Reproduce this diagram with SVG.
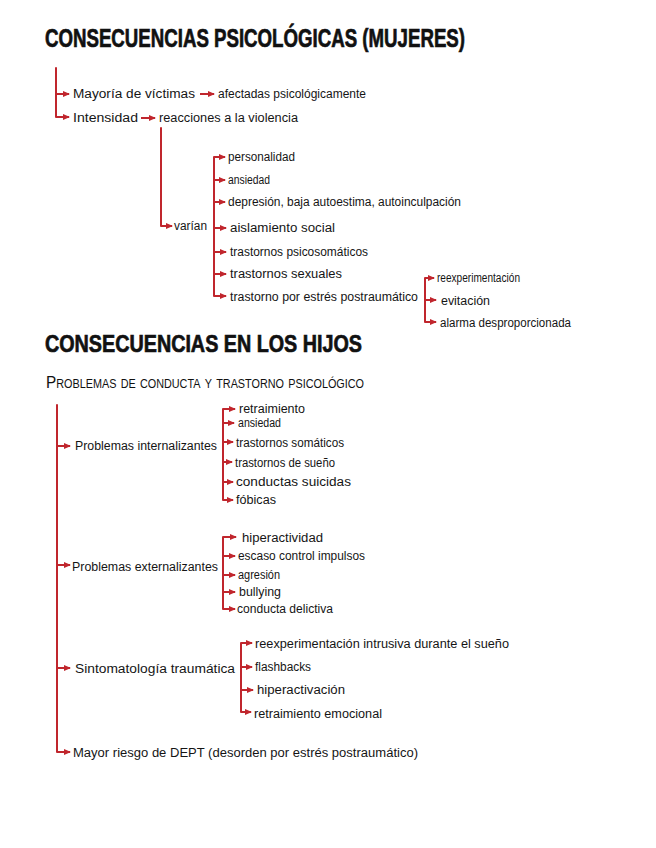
<svg xmlns="http://www.w3.org/2000/svg" width="656" height="848" viewBox="0 0 656 848">
<style>
.bg{fill:#ffffff}
.h1{font-family:"Liberation Sans",Arial,sans-serif;font-weight:700;font-size:26px;fill:#111;stroke:#111;stroke-width:0.7}
.h2{font-family:"Liberation Sans",Arial,sans-serif;font-size:17px;fill:#111;font-variant:small-caps}
.t{font-family:"Liberation Sans",Arial,sans-serif;font-size:12.5px;fill:#151515}
.ln{fill:none;stroke:#c0262d;stroke-width:2;stroke-linecap:round;stroke-linejoin:round}
.ar{fill:none;stroke:#c0262d;stroke-width:2;marker-end:url(#ah)}
</style>
<defs>
<marker id="ah" markerUnits="userSpaceOnUse" markerWidth="7" markerHeight="7" refX="6" refY="3.5" orient="auto">
<path d="M0,0.5 L7,3.5 L0,6.5 z" fill="#c0262d"/>
</marker>
</defs>
<rect class="bg" width="656" height="848"/>

<g id="title1"><text class="h1" x="45" y="47" textLength="420" lengthAdjust="spacingAndGlyphs">CONSECUENCIAS PSICOLÓGICAS (MUJERES)</text></g>
<g id="title2"><text class="h1" x="45" y="352" textLength="317" lengthAdjust="spacingAndGlyphs" style="font-size:24px">CONSECUENCIAS EN LOS HIJOS</text></g>
<g id="subtitle"><text class="h2" x="46" y="388" textLength="318" lengthAdjust="spacingAndGlyphs">Problemas de conducta y trastorno psicológico</text></g>

<g id="connectors">
<!-- section 1 -->
<path class="ln" d="M56,68 V117 H62"/>
<path class="ar" d="M56,94 H69"/>
<path class="ar" d="M60,117 H69"/>
<path class="ar" d="M200,94 H214"/>
<path class="ar" d="M141,118 H155"/>
<path class="ln" d="M161,128 V226 H165"/>
<path class="ar" d="M163,226 H172"/>
<path class="ln" d="M222,157 H214 V296 H218"/>
<path class="ar" d="M216,157 H225"/>
<path class="ar" d="M214,180 H225"/>
<path class="ar" d="M214,202 H225"/>
<path class="ar" d="M214,228 H226"/>
<path class="ar" d="M214,252 H226"/>
<path class="ar" d="M214,274 H226"/>
<path class="ar" d="M216,296 H226"/>
<path class="ln" d="M432,278 H425 V322 H428"/>
<path class="ar" d="M427,278 H434"/>
<path class="ar" d="M425,300 H436"/>
<path class="ar" d="M427,322 H436"/>
<!-- section 2 -->
<path class="ln" d="M57,405 V752 H62"/>
<path class="ar" d="M57,446 H70"/>
<path class="ar" d="M57,565 H70"/>
<path class="ar" d="M57,668 H70"/>
<path class="ar" d="M60,752 H70"/>
<path class="ln" d="M230,409 H223 V500 H227"/>
<path class="ar" d="M225,409 H235"/>
<path class="ar" d="M223,423 H234"/>
<path class="ar" d="M223,442 H233"/>
<path class="ar" d="M223,462 H232"/>
<path class="ar" d="M223,482 H233"/>
<path class="ar" d="M225,500 H233"/>
<path class="ln" d="M230,537 H223 V609 H227"/>
<path class="ar" d="M225,537 H236"/>
<path class="ar" d="M223,556 H235"/>
<path class="ar" d="M223,575 H235"/>
<path class="ar" d="M223,592 H235"/>
<path class="ar" d="M225,609 H235"/>
<path class="ln" d="M248,643 H241 V712 H245"/>
<path class="ar" d="M243,643 H252"/>
<path class="ar" d="M241,667 H252"/>
<path class="ar" d="M241,690 H253"/>
<path class="ar" d="M243,712 H251"/>
</g>

<g id="n-mayoria"><text class="t" x="73" y="98" textLength="122" lengthAdjust="spacingAndGlyphs">Mayoría de víctimas</text></g>
<g id="n-afectadas"><text class="t" x="218" y="98" textLength="148" lengthAdjust="spacingAndGlyphs">afectadas psicológicamente</text></g>
<g id="n-intensidad"><text class="t" x="73" y="122" textLength="65" lengthAdjust="spacingAndGlyphs">Intensidad</text></g>
<g id="n-reacciones"><text class="t" x="159" y="122" textLength="139" lengthAdjust="spacingAndGlyphs">reacciones a la violencia</text></g>
<g id="n-varian"><text class="t" x="174" y="230" textLength="33" lengthAdjust="spacingAndGlyphs">varían</text></g>
<g id="n-personalidad"><text class="t" x="228" y="161" textLength="67" lengthAdjust="spacingAndGlyphs">personalidad</text></g>
<g id="n-ansiedad1"><text class="t" x="228" y="184" textLength="42" lengthAdjust="spacingAndGlyphs">ansiedad</text></g>
<g id="n-depresion"><text class="t" x="228" y="206" textLength="233" lengthAdjust="spacingAndGlyphs">depresión, baja autoestima, autoinculpación</text></g>
<g id="n-aislamiento"><text class="t" x="230" y="232" textLength="105" lengthAdjust="spacingAndGlyphs">aislamiento social</text></g>
<g id="n-psicosomaticos"><text class="t" x="230" y="256" textLength="138" lengthAdjust="spacingAndGlyphs">trastornos psicosomáticos</text></g>
<g id="n-sexuales"><text class="t" x="230" y="278" textLength="112" lengthAdjust="spacingAndGlyphs">trastornos sexuales</text></g>
<g id="n-tept"><text class="t" x="230" y="301" textLength="188" lengthAdjust="spacingAndGlyphs">trastorno por estrés postraumático</text></g>
<g id="n-reexp1"><text class="t" x="437" y="282" textLength="83" lengthAdjust="spacingAndGlyphs">reexperimentación</text></g>
<g id="n-evitacion"><text class="t" x="441" y="305" textLength="49" lengthAdjust="spacingAndGlyphs">evitación</text></g>
<g id="n-alarma"><text class="t" x="440" y="327" textLength="131" lengthAdjust="spacingAndGlyphs">alarma desproporcionada</text></g>

<g id="n-internalizantes"><text class="t" x="75" y="450" textLength="142" lengthAdjust="spacingAndGlyphs">Problemas internalizantes</text></g>
<g id="n-retraimiento"><text class="t" x="239" y="413" textLength="66" lengthAdjust="spacingAndGlyphs">retraimiento</text></g>
<g id="n-ansiedad2"><text class="t" x="238" y="427" textLength="43" lengthAdjust="spacingAndGlyphs">ansiedad</text></g>
<g id="n-somaticos"><text class="t" x="236" y="447" textLength="108" lengthAdjust="spacingAndGlyphs">trastornos somáticos</text></g>
<g id="n-sueno"><text class="t" x="235" y="467" textLength="100" lengthAdjust="spacingAndGlyphs">trastornos de sueño</text></g>
<g id="n-suicidas"><text class="t" x="236" y="486" textLength="115" lengthAdjust="spacingAndGlyphs">conductas suicidas</text></g>
<g id="n-fobicas"><text class="t" x="236" y="504" textLength="40" lengthAdjust="spacingAndGlyphs">fóbicas</text></g>

<g id="n-externalizantes"><text class="t" x="72" y="571" textLength="146" lengthAdjust="spacingAndGlyphs">Problemas externalizantes</text></g>
<g id="n-hiperactividad"><text class="t" x="242" y="542" textLength="81" lengthAdjust="spacingAndGlyphs">hiperactividad</text></g>
<g id="n-impulsos"><text class="t" x="238" y="560" textLength="127" lengthAdjust="spacingAndGlyphs">escaso control impulsos</text></g>
<g id="n-agresion"><text class="t" x="238" y="579" textLength="42" lengthAdjust="spacingAndGlyphs">agresión</text></g>
<g id="n-bullying"><text class="t" x="239" y="596" textLength="42" lengthAdjust="spacingAndGlyphs">bullying</text></g>
<g id="n-delictiva"><text class="t" x="237" y="613" textLength="96" lengthAdjust="spacingAndGlyphs">conducta delictiva</text></g>

<g id="n-sintomatologia"><text class="t" x="75" y="673" textLength="160" lengthAdjust="spacingAndGlyphs">Sintomatología traumática</text></g>
<g id="n-reexp2"><text class="t" x="255" y="648" textLength="254" lengthAdjust="spacingAndGlyphs">reexperimentación intrusiva durante el sueño</text></g>
<g id="n-flashbacks"><text class="t" x="255" y="671" textLength="56" lengthAdjust="spacingAndGlyphs">flashbacks</text></g>
<g id="n-hiperactivacion"><text class="t" x="257" y="694" textLength="88" lengthAdjust="spacingAndGlyphs">hiperactivación</text></g>
<g id="n-emocional"><text class="t" x="254" y="718" textLength="128" lengthAdjust="spacingAndGlyphs">retraimiento emocional</text></g>

<g id="n-dept"><text class="t" x="73" y="757" textLength="345" lengthAdjust="spacingAndGlyphs">Mayor riesgo de DEPT (desorden por estrés postraumático)</text></g>
</svg>
